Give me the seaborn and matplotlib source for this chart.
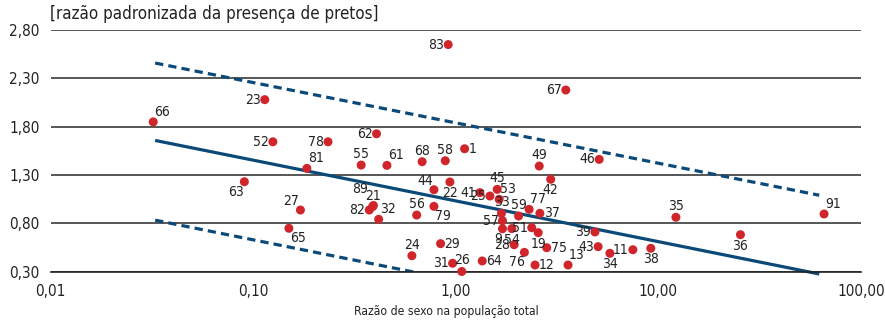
import matplotlib
matplotlib.use("Agg")
import matplotlib.pyplot as plt
import seaborn as sns
import pandas as pd
from matplotlib.ticker import FixedLocator, FixedFormatter, NullLocator

# point codes and values
codes = ['83', '67', '66', '23', '52', '78', '81', '63', '27', '65',
         '62', '55', '61', '68', '58', '1', '49', '42', '46', '44',
         '22', '45', '41', '25', '53', '33', '57', '59', '77', '37',
         '9', '54', '51', '19', '28', '75', '76', '12', '13', '29',
         '24', '31', '26', '64', '32', '82', '21', '89', '56', '79',
         '39', '43', '34', '11', '38', '35', '36', '91']
sex_ratio = [0.917, 3.49, 0.0321, 0.114, 0.125, 0.234, 0.184, 0.0904, 0.171, 0.150,
             0.406, 0.341, 0.457, 0.682, 0.887, 1.105, 2.58, 2.94, 5.10, 0.780,
             0.935, 1.60, 1.315, 1.473, 1.637, 1.68, 1.70, 2.04, 2.30, 2.60,
             1.70, 1.89, 2.37, 2.55, 1.94, 2.81, 2.18, 2.46, 3.58, 0.841,
             0.607, 0.964, 1.07, 1.35, 0.416, 0.374, 0.388, 0.392, 0.641, 0.780,
             4.86, 5.04, 5.76, 7.48, 9.17, 12.2, 25.4, 65.7]
black_ratio = [2.65, 2.18, 1.85, 2.08, 1.644, 1.644, 1.369, 1.231, 0.938, 0.749,
               1.727, 1.403, 1.400, 1.438, 1.448, 1.572, 1.393, 1.256, 1.462, 1.148,
               1.228, 1.152, 1.118, 1.083, 1.049, 0.904, 0.827, 0.876, 0.945, 0.904,
               0.744, 0.746, 0.755, 0.704, 0.579, 0.548, 0.500, 0.369, 0.369, 0.590,
               0.465, 0.387, 0.302, 0.411, 0.842, 0.938, 0.972, 0.985, 0.886, 0.976,
               0.711, 0.559, 0.490, 0.527, 0.542, 0.863, 0.683, 0.897]

# regression line and its band (log x, linear y)
fit_x = [0.0328, 62.2]
fit_mid = [1.658, 0.276]
fit_upper = [2.459, 1.091]
fit_lower = [0.833, -0.545]

x_ticks = [0.01, 0.1, 1, 10, 100]
x_tick_labels = ['0,01', '0,10', '1,00', '10,00', '100,00']
y_ticks = [0.3, 0.8, 1.3, 1.8, 2.3, 2.8]
y_tick_labels = ['0,30', '0,80', '1,30', '1,80', '2,30', '2,80']

# where each label sits relative to its point
label_pos = {
    '83': 'l', '67': 'l', '66': 'ar', '23': 'l', '52': 'l', '78': 'l', '81': 'ar',
    '63': 'bl', '27': 'al', '65': 'br', '62': 'l', '55': 'a', '61': 'ar', '68': 'a',
    '58': 'a', '1': 'r', '49': 'a', '42': 'b', '46': 'l', '44': 'al', '22': 'b',
    '45': 'a', '41': 'l', '25': 'l', '53': 'ar', '33': 'a', '57': 'l', '59': 'a',
    '77': 'ar', '37': 'r', '9': 'bl', '54': 'b', '51': 'l', '19': 'b', '28': 'l',
    '75': 'r', '76': 'bl', '12': 'r', '13': 'ar', '29': 'r', '24': 'a', '31': 'l',
    '26': 'a', '64': 'r', '32': 'ar', '82': 'l', '21': 'a', '89': 'far',
    '56': 'a', '79': 'br', '39': 'l', '43': 'l', '34': 'b', '11': 'l', '38': 'b',
    '35': 'a', '36': 'b', '91': 'ar',
}
offsets = {
    'l': (-4, 0, 'right', 'center'),
    'r': (4, 0, 'left', 'center'),
    'a': (0, 4, 'center', 'bottom'),
    'b': (0, -4, 'center', 'top'),
    'ar': (1, 3, 'left', 'bottom'),
    'al': (-1, 2, 'right', 'bottom'),
    'br': (1, -3, 'left', 'top'),
    'bl': (0, -3, 'right', 'top'),
    'far': (-5, 9, 'right', 'bottom'),
}

df = pd.DataFrame({'code': codes, 'x': sex_ratio, 'y': black_ratio})

sns.set_style('white')
plt.rcParams['font.family'] = ['DejaVu Sans Condensed', 'Liberation Sans Narrow', 'DejaVu Sans']
plt.rcParams['font.stretch'] = 'condensed'
text_color = '#222222'
navy = '#0b4a78'
red = '#d0262b'

fig = plt.figure(figsize=(8.85, 3.2), dpi=100)
ax = fig.add_axes([0.0572, 0.151, 0.9157, 0.755])
ax.set_xscale('log')

ax.plot(fit_x, fit_mid, color=navy, lw=2.3, solid_capstyle='butt', clip_on=False, zorder=2)
ax.plot(fit_x, fit_upper, color=navy, lw=2.3, ls=(0, (2.6, 1.6)), zorder=2, clip_on=False)
ax.plot(fit_x, fit_lower, color=navy, lw=2.3, ls=(0, (2.6, 1.6)), zorder=2)

sns.scatterplot(data=df, x='x', y='y', ax=ax, color=red, s=42, edgecolor='none',
                zorder=3, clip_on=False, legend=False)

for c, x, y in zip(codes, sex_ratio, black_ratio):
    dx, dy, ha, va = offsets[label_pos[c]]
    ax.annotate(c, (x, y), xytext=(dx * 0.72, dy * 0.72), textcoords='offset points',
                ha=ha, va=va, fontsize=10, color=text_color, zorder=4)

ax.set_xlim(0.01, 100)
ax.set_ylim(0.3, 2.8)
ax.xaxis.set_major_locator(FixedLocator(x_ticks))
ax.xaxis.set_major_formatter(FixedFormatter(x_tick_labels))
ax.xaxis.set_minor_locator(NullLocator())
ax.yaxis.set_major_locator(FixedLocator(y_ticks))
ax.yaxis.set_major_formatter(FixedFormatter(y_tick_labels))

ax.grid(axis='y', color='#3a3a3a', lw=1.2)
ax.grid(axis='x', visible=False)
ax.set_axisbelow(True)
for side in ['top', 'right', 'left']:
    ax.spines[side].set_visible(False)
ax.spines['bottom'].set_color('#222222')
ax.spines['bottom'].set_linewidth(1.2)

ax.tick_params(axis='x', direction='in', length=8, width=1.2, color='#222222',
               pad=9, labelsize=11, labelcolor=text_color)
ax.tick_params(axis='y', length=0, pad=8, labelsize=11, labelcolor=text_color)
ax.set_xlabel('')
ax.set_ylabel('')

fig.text(50 / 885, 1 - 14 / 320, '[razão padronizada da presença de pretos]',
         ha='left', va='center', fontsize=12.2, color=text_color)
fig.text(446 / 885, 1 - 311 / 320, 'Razão de sexo na população total',
         ha='center', va='center', fontsize=8.7, color=text_color)

fig.savefig('out.png', dpi=100)
